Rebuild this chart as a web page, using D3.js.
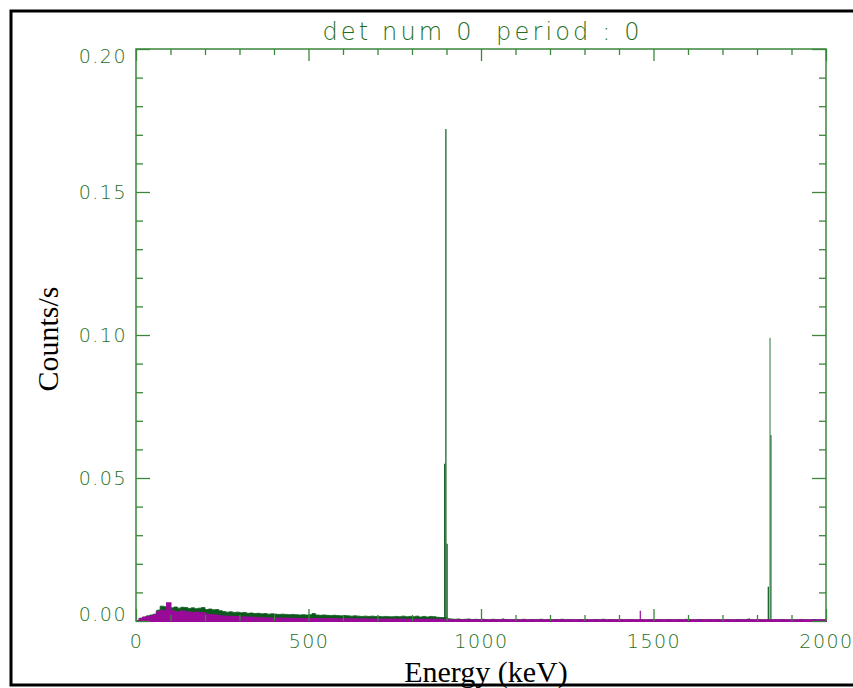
<!DOCTYPE html>
<html>
<head>
<meta charset="utf-8">
<script src="https://cdn.jsdelivr.net/npm/d3@7"></script>
<style>
  body { margin: 0; background: #fff; }
  .tick text { font-family: "DejaVu Sans", sans-serif; font-weight: 200; font-size: 19px; letter-spacing: 1.5px; fill: #1e6e22; }
  .axisText { font-family: "Liberation Serif", "Times New Roman", serif; font-size: 30px; fill: #000; }
</style>
</head>
<body>
<div class="chart"></div>
<script>
// Spectrum data: 10 keV bins from 0 to 2000 keV (counts/s)
let binWidth = 10;

let greenRate = [
  0, 0.0010, 0.0014, 0.0018, 0.0021, 0.0024, 0.0038, 0.0052, 0.0050, 0.0055,
  0.0046, 0.0049, 0.0045, 0.0048, 0.0047, 0.0044, 0.0046, 0.0043, 0.0045, 0.0047,
  0.0040, 0.0042, 0.0039, 0.0040, 0.0036, 0.0033, 0.0031, 0.0032, 0.0030, 0.0031,
  0.0029, 0.0030, 0.0027, 0.0028, 0.0026, 0.0027, 0.0025, 0.0026, 0.0024, 0.0025,
  0.0024, 0.0023, 0.0024, 0.0023, 0.0022, 0.0023, 0.0022, 0.0021, 0.0022, 0.0021,
  0.0022, 0.0026, 0.0021, 0.0020, 0.0021, 0.0020, 0.0019, 0.0020, 0.0019, 0.0018,
  0.0019, 0.0018, 0.0017, 0.0018, 0.0017, 0.0016, 0.0017, 0.0016, 0.0017, 0.0016,
  0.0016, 0.0015, 0.0016, 0.0015, 0.0015, 0.0016, 0.0015, 0.0017, 0.0015, 0.0016,
  0.0015, 0.0017, 0.0014, 0.0016, 0.0014, 0.0016, 0.0015, 0.0013, 0.0012, 0.0012,
  0.0008, 0.0007, 0.0006, 0.0007, 0.0005, 0.0006, 0.0007, 0.0005, 0.0006, 0.0005,
  0.0006, 0.0005, 0.0004, 0.0006, 0.0005, 0.0004, 0.0006, 0.0005, 0.0004, 0.0005,
  0.0005, 0.0004, 0.0006, 0.0004, 0.0005, 0.0004, 0.0005, 0.0006, 0.0004, 0.0005,
  0.0004, 0.0005, 0.0004, 0.0006, 0.0004, 0.0005, 0.0004, 0.0004, 0.0005, 0.0004,
  0.0005, 0.0004, 0.0004, 0.0005, 0.0004, 0.0006, 0.0004, 0.0005, 0.0004, 0.0004,
  0.0005, 0.0004, 0.0004, 0.0005, 0.0004, 0.0004, 0.0005, 0.0004, 0.0004, 0.0005,
  0.0004, 0.0005, 0.0004, 0.0004, 0.0005, 0.0004, 0.0004, 0.0005, 0.0004, 0.0004,
  0.0005, 0.0004, 0.0004, 0.0005, 0.0004, 0.0004, 0.0005, 0.0004, 0.0005, 0.0004,
  0.0004, 0.0005, 0.0004, 0.0004, 0.0005, 0.0004, 0.0004, 0.0006, 0.0004, 0.0004,
  0.0005, 0.0004, 0.0004, 0.0005, 0.0004, 0.0004, 0.0004, 0.0005, 0.0004, 0.0004,
  0.0004, 0.0004, 0.0005, 0.0004, 0.0004, 0.0004, 0.0005, 0.0004, 0.0004, 0.0004
];

let magentaRate = [
  0, 0.0006, 0.0011, 0.0014, 0.0016, 0.0019, 0.0031, 0.0036, 0.0033, 0.0062,
  0.0034, 0.0031, 0.0030, 0.0033, 0.0029, 0.0030, 0.0028, 0.0029, 0.0027, 0.0028,
  0.0022, 0.0021, 0.0020, 0.0019, 0.0017, 0.0016, 0.0015, 0.0015, 0.0014, 0.0014,
  0.0013, 0.0012, 0.0012, 0.0011, 0.0011, 0.0010, 0.0010, 0.0010, 0.0009, 0.0009,
  0.0009, 0.0009, 0.0008, 0.0008, 0.0008, 0.0008, 0.0008, 0.0007, 0.0007, 0.0007,
  0.0007, 0.0007, 0.0007, 0.0006, 0.0007, 0.0006, 0.0007, 0.0006, 0.0006, 0.0006,
  0.0006, 0.0006, 0.0005, 0.0006, 0.0005, 0.0005, 0.0006, 0.0005, 0.0005, 0.0005,
  0.0005, 0.0005, 0.0005, 0.0004, 0.0005, 0.0004, 0.0005, 0.0004, 0.0004, 0.0004,
  0.0004, 0.0004, 0.0004, 0.0004, 0.0004, 0.0004, 0.0004, 0.0004, 0.0004, 0.0004,
  0.0003, 0.0003, 0.0003, 0.0003, 0.0003, 0.0003, 0.0003, 0.0003, 0.0003, 0.0003,
  0.0003, 0.0003, 0.0003, 0.0003, 0.0003, 0.0003, 0.0003, 0.0003, 0.0003, 0.0003,
  0.0003, 0.0003, 0.0003, 0.0003, 0.0003, 0.0003, 0.0003, 0.0003, 0.0003, 0.0003,
  0.0003, 0.0003, 0.0003, 0.0003, 0.0003, 0.0003, 0.0003, 0.0003, 0.0003, 0.0003,
  0.0003, 0.0003, 0.0003, 0.0003, 0.0003, 0.0003, 0.0003, 0.0003, 0.0003, 0.0003,
  0.0003, 0.0003, 0.0003, 0.0003, 0.0003, 0.0003, 0.0003, 0.0003, 0.0003, 0.0003,
  0.0003, 0.0003, 0.0003, 0.0003, 0.0003, 0.0003, 0.0003, 0.0003, 0.0003, 0.0003,
  0.0003, 0.0003, 0.0003, 0.0003, 0.0003, 0.0003, 0.0003, 0.0003, 0.0003, 0.0003,
  0.0003, 0.0003, 0.0003, 0.0003, 0.0003, 0.0003, 0.0003, 0.0003, 0.0003, 0.0003,
  0.0003, 0.0003, 0.0003, 0.0003, 0.0003, 0.0003, 0.0003, 0.0003, 0.0003, 0.0003,
  0.0003, 0.0003, 0.0003, 0.0003, 0.0003, 0.0003, 0.0003, 0.0003, 0.0003, 0.0003
];

// Narrow lines (left edge in keV, rate)
let lineWidth = 3.5;
let greenLineEnergy = [893, 900, 896.5, 1062, 1238, 1592, 1776, 1831, 1838.5, 1836];
let greenLineRate = [0.055, 0.027, 0.172, 0.0009, 0.0007, 0.0008, 0.0009, 0.012, 0.065, 0.099];
let magentaLineEnergy = [1460];
let magentaLineRate = [0.0036];

// Axis ticks
let xMajorTicks = [0, 500, 1000, 1500, 2000];
let xMinorTicks = [100, 200, 300, 400, 600, 700, 800, 900, 1100, 1200, 1300, 1400, 1600, 1700, 1800, 1900];
let yMajorTicks = [0, 0.05, 0.10, 0.15, 0.20];
let yMinorTicks = [0.01, 0.02, 0.03, 0.04, 0.06, 0.07, 0.08, 0.09, 0.11, 0.12, 0.13, 0.14, 0.16, 0.17, 0.18, 0.19];

let titleText = "det num 0  period : 0";

// Set up chart
let svgWidth = 853;
let svgHeight = 688;
let axisColor = "#3b873b";
let labelColor = "#1e6e22";

let svg = d3.select(".chart")
  .append("svg")
  .attr("width", svgWidth)
  .attr("height", svgHeight);

// outer black frame
svg.append("rect")
  .attr("x", 11).attr("y", 11)
  .attr("width", 900).attr("height", 674)
  .attr("fill", "none")
  .attr("stroke", "#000")
  .attr("stroke-width", 3);

let xScale = d3.scaleLinear().domain([0, 2000]).range([136, 826]);
let yScale = d3.scaleLinear().domain([0, 0.2]).range([621, 49]);

// plot frame (drawn under the data, like the original)
svg.append("rect")
  .attr("x", xScale(0)).attr("y", yScale(0.2))
  .attr("width", xScale(2000) - xScale(0))
  .attr("height", yScale(0) - yScale(0.2))
  .attr("fill", "none")
  .attr("stroke", axisColor)
  .attr("stroke-width", 1.5);

// step histogram areas
function binPoints(rates) {
  let pts = rates.map((v, i) => ({ e: i * binWidth, v: v }));
  pts.push({ e: rates.length * binWidth, v: rates[rates.length - 1] });
  return pts;
}

let stepArea = d3.area()
  .curve(d3.curveStepAfter)
  .x(d => xScale(d.e))
  .y0(yScale(0))
  .y1(d => yScale(d.v));

let plot = svg.append("g");

plot.append("path")
  .datum(binPoints(greenRate))
  .attr("d", stepArea)
  .attr("fill", "#0b5a1c")
  .attr("stroke", "#0b5a1c")
  .attr("stroke-width", 0.8);

plot.selectAll(".gline")
  .data(greenLineEnergy.map((e, i) => ({ e: e, v: greenLineRate[i] })))
  .enter().append("rect")
  .attr("class", "gline")
  .attr("x", d => xScale(d.e))
  .attr("width", d => xScale(d.e + lineWidth) - xScale(d.e))
  .attr("y", d => yScale(d.v))
  .attr("height", d => yScale(0) - yScale(d.v))
  .attr("fill", (d, i) => i === greenLineEnergy.length - 1 ? "#4f8f5c" : "#0b5a1c");

plot.append("path")
  .datum(binPoints(magentaRate))
  .attr("d", stepArea)
  .attr("fill", "#990a99")
  .attr("stroke", "#990a99")
  .attr("stroke-width", 2);

plot.selectAll(".mline")
  .data(magentaLineEnergy.map((e, i) => ({ e: e, v: magentaLineRate[i] })))
  .enter().append("rect")
  .attr("class", "mline")
  .attr("x", d => xScale(d.e))
  .attr("width", d => xScale(d.e + lineWidth) - xScale(d.e))
  .attr("y", d => yScale(d.v))
  .attr("height", d => yScale(0) - yScale(d.v))
  .attr("fill", "#990a99");

// Axes (ticks on all four sides, pointing inward)
function styleAxis(g) {
  g.select(".domain").remove();
  g.selectAll(".tick line").attr("stroke", axisColor).attr("stroke-width", 1.3);
}

// left
svg.append("g")
  .attr("transform", `translate(${xScale(0)},0)`)
  .call(d3.axisLeft(yScale).tickValues(yMajorTicks).tickSizeInner(-14).tickSizeOuter(0)
    .tickPadding(9).tickFormat(d3.format(".2f")))
  .call(styleAxis)
  .call(g => {
    g.selectAll(".tick text").attr("text-anchor", "end");
    g.selectAll(".tick").filter(d => d === 0).select("text").attr("dy", "-0.05em");
    g.selectAll(".tick").filter(d => d === 0.2).select("text").attr("dy", "0.72em");
  });
svg.append("g")
  .attr("transform", `translate(${xScale(0)},0)`)
  .call(d3.axisLeft(yScale).tickValues(yMinorTicks).tickSize(-7).tickFormat(""))
  .call(styleAxis);

// right
svg.append("g")
  .attr("transform", `translate(${xScale(2000)},0)`)
  .call(d3.axisRight(yScale).tickValues(yMajorTicks).tickSize(-14).tickFormat(""))
  .call(styleAxis);
svg.append("g")
  .attr("transform", `translate(${xScale(2000)},0)`)
  .call(d3.axisRight(yScale).tickValues(yMinorTicks).tickSize(-7).tickFormat(""))
  .call(styleAxis);

// bottom
svg.append("g")
  .attr("transform", `translate(0,${yScale(0)})`)
  .call(d3.axisBottom(xScale).tickValues(xMajorTicks).tickSizeInner(-12).tickSizeOuter(0)
    .tickPadding(14).tickFormat(d3.format("d")))
  .call(styleAxis);
svg.append("g")
  .attr("transform", `translate(0,${yScale(0)})`)
  .call(d3.axisBottom(xScale).tickValues(xMinorTicks).tickSize(-6).tickFormat(""))
  .call(styleAxis);

// top
svg.append("g")
  .attr("transform", `translate(0,${yScale(0.2)})`)
  .call(d3.axisTop(xScale).tickValues(xMajorTicks).tickSize(-12).tickFormat(""))
  .call(styleAxis);
svg.append("g")
  .attr("transform", `translate(0,${yScale(0.2)})`)
  .call(d3.axisTop(xScale).tickValues(xMinorTicks).tickSize(-6).tickFormat(""))
  .call(styleAxis);

// Title
svg.append("text")
  .attr("x", (xScale(0) + xScale(2000)) / 2)
  .attr("y", 40)
  .attr("text-anchor", "middle")
  .attr("textLength", 317)
  .attr("lengthAdjust", "spacing")
  .style("white-space", "pre")
  .style("font-family", "DejaVu Sans, sans-serif")
  .style("font-weight", 200)
  .style("font-size", "24px")
  .style("fill", labelColor)
  .text(titleText);

// Axis labels
svg.append("text")
  .attr("class", "axisText")
  .attr("transform", "translate(58,339) rotate(-90)")
  .attr("text-anchor", "middle")
  .text("Counts/s");

svg.append("text")
  .attr("class", "axisText")
  .attr("x", 486)
  .attr("y", 682)
  .attr("text-anchor", "middle")
  .text("Energy (keV)");
</script>
</body>
</html>
